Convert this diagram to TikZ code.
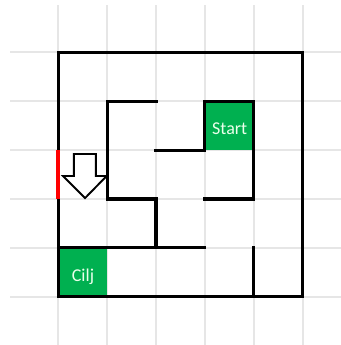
\documentclass[tikz,border=0pt]{standalone}
\usepackage{fontspec}
\setmainfont{Carlito}
\usetikzlibrary{positioning}

\definecolor{mazegreen}{HTML}{00B050}
\definecolor{gridgray}{HTML}{E6E6E6}

\begin{document}
\begin{tikzpicture}[
    wall/.style={black,line width=1.8pt,line cap=rect},
    gridline/.style={gridgray,line width=1.1pt},
    cell/.style={fill=mazegreen,minimum size=1cm,inner sep=0pt,anchor=south west,
      text=white!92!green,font=\fontsize{10.5}{12}\selectfont,text height=10.5pt,text depth=0pt}
  ]
  \useasboundingbox (-1.19,-0.985) rectangle (5.78,6.07);

  \foreach \i in {0,...,5} {
      \draw[gridline] (\i,-0.985) -- (\i,5.967); %columns
      \draw[gridline] (-0.99,\i) -- (5.78,\i); %rows
    }

  \node[cell] (start) at (3,3) {Start};
  \node[cell] (cilj) at (0,0) {Cilj};

  \begin{scope}
    \draw[wall] (0,0) rectangle (5,5);%marking borders
    \draw[wall] (2,4) -- (1,4) -- (1,2) -- (2,2) -- (2,1);
    \draw[wall] (0,1) -- (3,1);
    \draw[wall] (2,3) -- (3,3) -- (3,4) -- (4,4) -- (4,2) -- (3,2);
    \draw[wall] (4,1) -- (4,0);
  \end{scope}

  \draw[red,line width=2.6pt] (0,3) -- (0,2);

  % arrow down
  \draw[black,line width=1.1pt,fill=white,line join=miter]
  (0.32,2.92) -- (0.77,2.92) -- (0.77,2.47) -- (0.99,2.47) -- (0.55,2.02)
  -- (0.1,2.47) -- (0.32,2.47) -- cycle;
\end{tikzpicture}
\end{document}
